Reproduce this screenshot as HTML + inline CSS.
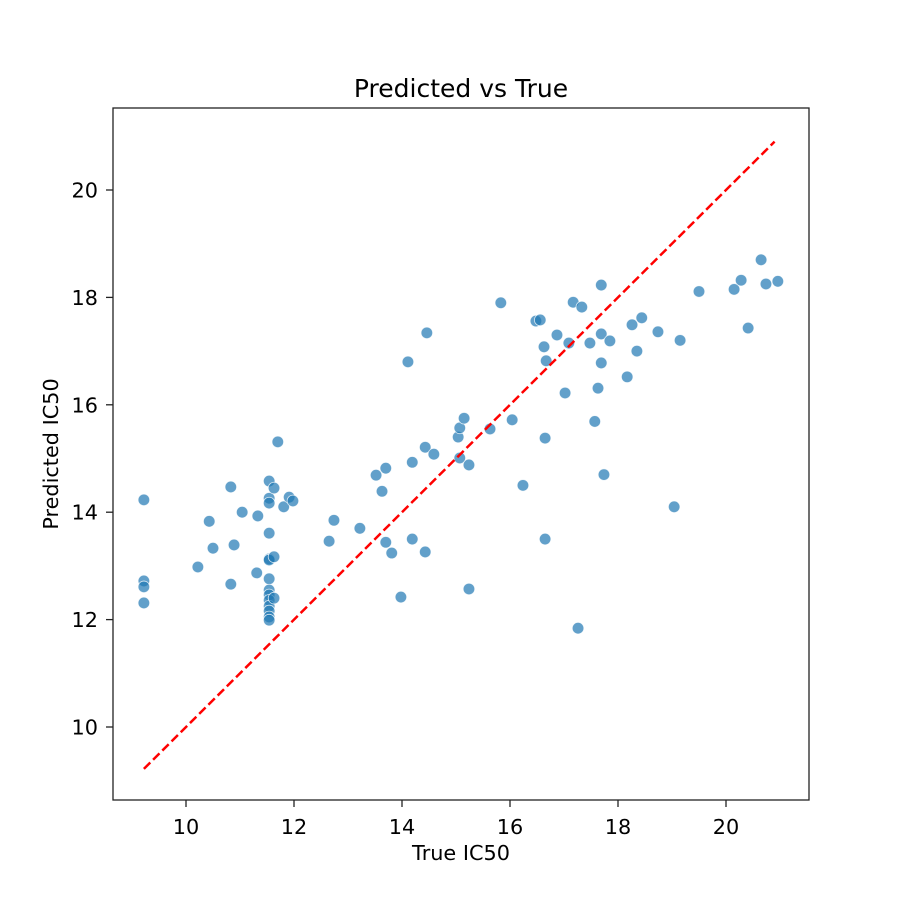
<!DOCTYPE html>
<html><head><meta charset="utf-8"><style>
body{margin:0;background:#fff}
svg{display:block;font-family:"DejaVu Sans","Liberation Sans",sans-serif}
</style></head><body>
<svg id="chart" width="900" height="900" viewBox="0 0 900 900"></svg>
<script>
const trueVals=[9.22,9.22,9.22,9.22,10.22,10.43,10.5,10.83,10.83,10.89,11.04,11.31,11.33,11.54,11.54,11.54,11.54,11.54,11.54,11.54,11.54,11.54,11.54,11.54,11.54,11.54,11.54,11.63,11.63,11.63,11.70,11.81,11.91,11.98,12.65,12.74,13.22,13.52,13.63,13.70,13.70,13.81,13.98,14.11,14.19,14.19,14.43,14.43,14.46,14.59,15.04,15.07,15.07,15.15,15.24,15.24,15.63,15.83,16.04,16.24,16.48,16.56,16.63,16.65,16.65,16.67,16.87,17.02,17.09,17.17,17.33,17.26,17.48,17.57,17.63,17.69,17.69,17.69,17.74,17.85,18.17,18.26,18.35,18.44,18.74,19.04,19.15,19.50,20.15,20.28,20.41,20.65,20.74,20.96];
const predVals=[14.23,12.72,12.61,12.31,12.98,13.83,13.33,14.47,12.66,13.39,14.0,12.87,13.93,14.58,14.26,14.17,13.61,13.13,12.76,12.55,12.46,12.36,12.25,12.16,12.05,11.99,13.11,14.45,13.17,12.40,15.31,14.10,14.28,14.21,13.46,13.85,13.70,14.69,14.39,14.82,13.44,13.24,12.42,16.80,14.93,13.50,15.21,13.26,17.34,15.08,15.40,15.57,15.01,15.75,14.88,12.57,15.55,17.90,15.72,14.50,17.56,17.58,17.08,15.38,13.50,16.82,17.30,16.22,17.15,17.91,17.82,11.84,17.15,15.69,16.31,18.23,17.32,16.78,14.70,17.19,16.52,17.49,17.00,17.62,17.36,14.10,17.20,18.11,18.15,18.32,17.43,18.70,18.25,18.30];
const xTicks=[10,12,14,16,18,20];
const yTicks=[10,12,14,16,18,20];
const diag=[9.22,20.9];

const NS="http://www.w3.org/2000/svg";
const svg=document.getElementById('chart');
const L=113,R=809,T=108,B=800;
const sx=v=>186+(v-10)*54;
const sy=v=>727-(v-10)*53.7;
function mk(tag,attrs,parent){const e=document.createElementNS(NS,tag);for(const k in attrs)e.setAttribute(k,attrs[k]);(parent||svg).appendChild(e);return e;}

const pts=mk('g',{});


trueVals.forEach((v,i)=>{
  const c=mk('circle',{cx:sx(v),cy:sy(predVals[i]),r:5.8,fill:'#1f77b4','fill-opacity':0.7,stroke:'#fff','stroke-width':0.8,'stroke-opacity':0.8},pts);
  
  
});
const ln=mk('line',{x1:sx(diag[0]),y1:sy(diag[0]),x2:sx(diag[1]),y2:sy(diag[1]),stroke:'#ff0000','stroke-width':2.5,'stroke-dasharray':'9,4'});



const frame=mk('rect',{x:L,y:T,width:R-L,height:B-T,fill:'none',stroke:'#222','stroke-width':1.3});



xTicks.forEach(t=>{
  const x=sx(t);
  mk('line',{x1:x,y1:B,x2:x,y2:B+7,stroke:'#222','stroke-width':1.3});
  const tx=mk('text',{x:x,y:B+34,'text-anchor':'middle','font-size':20.8});
  tx.textContent=t;
  
  
});
yTicks.forEach(t=>{
  const y=sy(t);
  mk('line',{x1:L-7,y1:y,x2:L,y2:y,stroke:'#222','stroke-width':1.3});
  const tx=mk('text',{x:L-15,y:y+7.5,'text-anchor':'end','font-size':20.8});
  tx.textContent=t;
  
  
});
const xt=mk('text',{x:461,y:860,'text-anchor':'middle','font-size':20.8});
xt.textContent='True IC50';


const yt=mk('text',{x:58,y:454,'text-anchor':'middle','font-size':20.8,transform:'rotate(-90 58 454)'});
yt.textContent='Predicted IC50';


const ti=mk('text',{x:461,y:97,'text-anchor':'middle','font-size':25});
ti.textContent='Predicted vs True';


</script>
</body></html>
